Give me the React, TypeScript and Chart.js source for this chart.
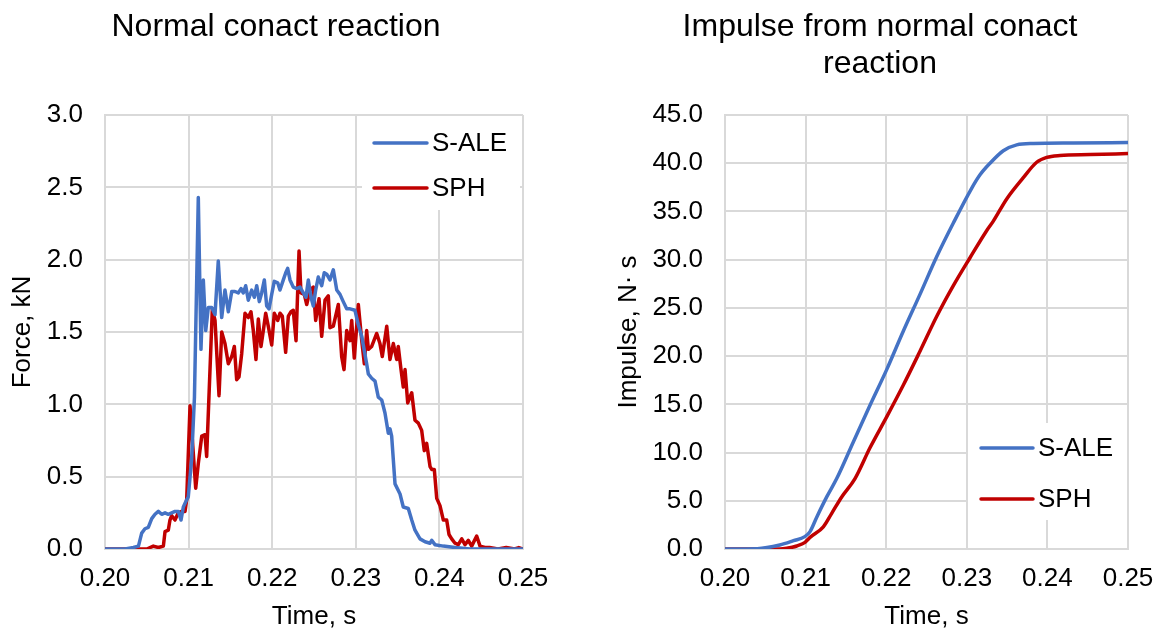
import React, { useEffect, useRef } from 'react';
import { Chart, registerables } from 'chart.js';

Chart.register(...registerables);

const FONT = "'Liberation Sans', Arial, sans-serif";
const GRID = '#d9d9d9';
const BLUE = '#4472C4';
const RED = '#C00000';

const seriesNames = ['S-ALE', 'SPH'];
const timeTicks = [0.2, 0.21, 0.22, 0.23, 0.24, 0.25];

// Normal contact reaction, [time s, force kN]
const forceSALE: [number, number][] = [
  [0.2, 0], [0.2024, 0], [0.2034, 0.01], [0.204, 0.02], [0.20439, 0.11], [0.20478, 0.14],
  [0.20518, 0.15], [0.20559, 0.21], [0.20598, 0.24], [0.20638, 0.26], [0.20678, 0.24],
  [0.20718, 0.25], [0.20757, 0.24], [0.20798, 0.25], [0.20837, 0.26], [0.20877, 0.26],
  [0.20909, 0.2], [0.20937, 0.29], [0.20977, 0.34], [0.20996, 0.36], [0.21036, 0.62],
  [0.2107, 1.05], [0.21116, 2.43], [0.21148, 1.38], [0.21176, 1.86], [0.21205, 1.51],
  [0.21236, 1.67], [0.21276, 1.67], [0.21316, 1.62], [0.21355, 1.99], [0.21396, 1.6],
  [0.21435, 1.79], [0.21475, 1.64], [0.21516, 1.78], [0.21555, 1.78], [0.21595, 1.77],
  [0.21627, 1.8], [0.21654, 1.77], [0.21683, 1.82], [0.21714, 1.72], [0.21755, 1.79],
  [0.21786, 1.74], [0.21815, 1.82], [0.21846, 1.71], [0.21874, 1.77], [0.21906, 1.86],
  [0.21934, 1.68], [0.21962, 1.66], [0.21994, 1.76], [0.22025, 1.85], [0.22066, 1.84],
  [0.22093, 1.79], [0.22133, 1.86], [0.22162, 1.91], [0.22185, 1.94], [0.22213, 1.86],
  [0.22252, 1.81], [0.22293, 1.8], [0.22333, 1.81], [0.22372, 1.77], [0.22404, 1.74],
  [0.22432, 1.86], [0.22464, 1.74], [0.22492, 1.68], [0.2252, 1.79], [0.22551, 1.88],
  [0.22592, 1.82], [0.22623, 1.91], [0.22652, 1.9], [0.22691, 1.86], [0.22731, 1.93],
  [0.22772, 1.79], [0.22811, 1.76], [0.2285, 1.71], [0.22891, 1.66], [0.22931, 1.66],
  [0.2299, 1.65], [0.2303, 1.55], [0.23071, 1.47], [0.2313, 1.28], [0.2315, 1.21],
  [0.2319, 1.18], [0.2323, 1.16], [0.23269, 1.05], [0.2331, 1.03], [0.23349, 0.94],
  [0.23389, 0.8], [0.23409, 0.83], [0.23429, 0.78], [0.23469, 0.45], [0.23529, 0.38],
  [0.23568, 0.29], [0.23628, 0.28], [0.23669, 0.2], [0.23708, 0.13], [0.23768, 0.07],
  [0.23828, 0.05], [0.23888, 0.04], [0.23908, 0.06], [0.23947, 0.03], [0.24047, 0.02],
  [0.24187, 0.01], [0.24366, 0], [0.25, 0],
];

const forceSPH: [number, number][] = [
  [0.2, 0], [0.205, 0], [0.20578, 0.02], [0.20638, 0.01], [0.20698, 0.02], [0.20718, 0.12],
  [0.20757, 0.13], [0.20777, 0.2], [0.20798, 0.23], [0.20837, 0.2], [0.20877, 0.25],
  [0.20917, 0.26], [0.20957, 0.26], [0.20977, 0.34], [0.21017, 0.99], [0.21085, 0.42],
  [0.21116, 0.59], [0.21157, 0.78], [0.21196, 0.79], [0.21216, 0.64], [0.21284, 1.66],
  [0.21316, 1.58], [0.21364, 1.06], [0.21396, 1.5], [0.21435, 1.42], [0.21475, 1.28],
  [0.21516, 1.33], [0.21547, 1.4], [0.21575, 1.17], [0.21603, 1.19], [0.21635, 1.35],
  [0.21675, 1.63], [0.21714, 1.6], [0.21746, 1.64], [0.21774, 1.51], [0.21806, 1.31],
  [0.21834, 1.59], [0.21866, 1.4], [0.21894, 1.51], [0.21922, 1.63], [0.21953, 1.54],
  [0.21994, 1.41], [0.22025, 1.63], [0.22066, 1.58], [0.22093, 1.63], [0.22121, 1.61],
  [0.22161, 1.36], [0.22193, 1.61], [0.22225, 1.64], [0.22252, 1.65], [0.22285, 1.44],
  [0.22321, 2.06], [0.22344, 1.77], [0.22384, 1.76], [0.22413, 1.69], [0.22452, 1.79],
  [0.22492, 1.81], [0.2252, 1.58], [0.2256, 1.73], [0.22592, 1.47], [0.22632, 1.72],
  [0.22671, 1.75], [0.22691, 1.53], [0.22731, 1.54], [0.22791, 1.69], [0.22831, 1.33],
  [0.22859, 1.24], [0.22891, 1.51], [0.22931, 1.44], [0.22951, 1.58], [0.22982, 1.32],
  [0.2303, 1.69], [0.23071, 1.44], [0.23102, 1.28], [0.2313, 1.51], [0.2315, 1.38],
  [0.2319, 1.4], [0.2325, 1.49], [0.23289, 1.42], [0.23317, 1.33], [0.2337, 1.54],
  [0.23409, 1.31], [0.23449, 1.42], [0.23489, 1.31], [0.23508, 1.4], [0.23541, 1.24],
  [0.23568, 1.12], [0.23589, 1.24], [0.23621, 1.01], [0.23669, 1.08], [0.23708, 0.89],
  [0.23748, 0.87], [0.23788, 0.82], [0.23819, 0.68], [0.23848, 0.73], [0.23888, 0.57],
  [0.23908, 0.55], [0.23939, 0.55], [0.23968, 0.35], [0.24007, 0.3], [0.24047, 0.2],
  [0.24087, 0.2], [0.24115, 0.1], [0.24147, 0.07], [0.24187, 0.04], [0.24226, 0.03],
  [0.24267, 0.07], [0.24306, 0.03], [0.24346, 0.06], [0.24386, 0.02], [0.24446, 0.09],
  [0.24486, 0.02], [0.24545, 0.01], [0.246, 0.01], [0.247, 0], [0.248, 0.01], [0.249, 0],
  [0.2495, 0.01], [0.25, 0],
];

// Impulse from normal contact reaction, [time s, impulse N·s]
const impulseSALE: [number, number][] = [
  [0.2, 0], [0.204, 0.03], [0.2068, 0.41], [0.2085, 0.86], [0.2099, 1.28], [0.21055, 1.8],
  [0.21138, 3.3], [0.21262, 5.4], [0.21386, 7.3], [0.21592, 11.1], [0.21799, 14.9],
  [0.22006, 18.6], [0.22213, 22.6], [0.22419, 26.4], [0.22626, 30.3], [0.22833, 33.8],
  [0.2306, 37.4], [0.23164, 38.8], [0.23288, 40.0], [0.23453, 41.3], [0.23619, 41.9],
  [0.23825, 42.05], [0.2432, 42.1], [0.25, 42.15],
];

const impulseSPH: [number, number][] = [
  [0.2, 0], [0.2068, 0], [0.20765, 0.07], [0.2089, 0.31], [0.20993, 0.69], [0.21055, 1.2],
  [0.2122, 2.3], [0.21324, 3.7], [0.21448, 5.4], [0.21613, 7.3], [0.21799, 10.5],
  [0.22006, 13.7], [0.22213, 17.0], [0.22419, 20.5], [0.22626, 24.1], [0.22833, 27.3],
  [0.2304, 30.2], [0.23246, 33.0], [0.23329, 34.0], [0.23495, 36.3], [0.23701, 38.5],
  [0.23867, 40.1], [0.23991, 40.6], [0.24156, 40.8], [0.2453, 40.9], [0.25, 41.0],
];

type PanelCfg = {
  title: string | string[];
  titleCenter: number;
  yTitle: string;
  yMax: number;
  yStep: number;
  yTitleOffset: number;
  padRight: number;
  yWidth: number;
  titlePadBottom: number;
  series: [number, number][][];
  smooth: boolean;
  legend: { bx: number; by: number; bw: number; bh: number; x: number; y: number; gap: number; len: number };
};

function overlayPlugin(cfg: PanelCfg) {
  return {
    id: 'overlay',
    afterLayout(chart: any) {
      const tb = chart.titleBlock;
      if (tb) {
        tb.left = cfg.titleCenter - 280;
        tb.right = cfg.titleCenter + 280;
      }
    },
    afterDatasetsDraw(chart: any) {
      const lg = cfg.legend;
      const ctx = chart.ctx as CanvasRenderingContext2D;
      ctx.save();
      ctx.fillStyle = '#ffffff';
      ctx.fillRect(lg.bx, lg.by, lg.bw, lg.bh);
      chart.data.datasets.forEach((ds: any, i: number) => {
        const y = lg.y + i * lg.gap;
        ctx.strokeStyle = ds.borderColor;
        ctx.lineWidth = 3.5;
        ctx.lineCap = 'round';
        ctx.beginPath();
        ctx.moveTo(lg.x, y);
        ctx.lineTo(lg.x + lg.len, y);
        ctx.stroke();
        ctx.fillStyle = '#000000';
        ctx.font = `26px ${FONT}`;
        ctx.textBaseline = 'middle';
        ctx.textAlign = 'left';
        ctx.fillText(ds.label, lg.x + lg.len + 5, y + 1);
      });
      ctx.restore();
    },
  };
}

function buildConfig(cfg: PanelCfg): any {
  const colors = [BLUE, RED];
  return {
    type: 'line',
    data: {
      datasets: cfg.series.map((s, i) => ({
        label: seriesNames[i],
        data: s.map(([x, y]) => ({ x, y })),
        borderColor: colors[i],
        backgroundColor: colors[i],
        borderWidth: 3.5,
        pointRadius: 0,
        fill: false,
        tension: 0,
        cubicInterpolationMode: cfg.smooth ? 'monotone' : 'default',
        borderJoinStyle: 'round',
      })),
    },
    options: {
      responsive: false,
      animation: false,
      devicePixelRatio: 1,
      events: [],
      layout: { padding: { left: 0, right: cfg.padRight, top: 0, bottom: 0 } },
      plugins: {
        legend: { display: false },
        tooltip: { enabled: false },
        title: {
          display: true,
          text: cfg.title,
          color: '#000000',
          font: { family: FONT, size: 32, weight: 'normal', lineHeight: '37px' },
          padding: { top: 8.5, bottom: cfg.titlePadBottom },
        },
      },
      scales: {
        x: {
          type: 'linear',
          min: timeTicks[0],
          max: timeTicks[timeTicks.length - 1],
          afterBuildTicks: (s: any) => {
            s.ticks = timeTicks.map((v) => ({ value: v }));
          },
          ticks: {
            callback: (v: any) => Number(v).toFixed(2),
            color: '#000000',
            font: { family: FONT, size: 26 },
            padding: 14,
            maxRotation: 0,
            autoSkip: false,
          },
          grid: { color: GRID, lineWidth: 2, drawTicks: false },
          border: { color: GRID, width: 2 },
          title: {
            display: true,
            text: 'Time, s',
            color: '#000000',
            font: { family: FONT, size: 26 },
            padding: { top: 0, bottom: 0 },
          },
          afterFit: (s: any) => {
            s.height = 83;
          },
        },
        y: {
          type: 'linear',
          min: 0,
          max: cfg.yMax,
          ticks: {
            stepSize: cfg.yStep,
            callback: (v: any) => Number(v).toFixed(1),
            color: '#000000',
            font: { family: FONT, size: 26 },
            padding: 22,
          },
          grid: { color: GRID, lineWidth: 2, drawTicks: false },
          border: { color: GRID, width: 2 },
          title: {
            display: true,
            text: cfg.yTitle,
            color: '#000000',
            font: { family: FONT, size: 26 },
            padding: { top: cfg.yTitleOffset - 15.6, bottom: 0 },
          },
          afterFit: (s: any) => {
            s.width = cfg.yWidth;
          },
        },
      },
    },
    plugins: [overlayPlugin(cfg)],
  };
}

const leftPanel: PanelCfg = {
  title: 'Normal conact reaction',
  titleCenter: 276,
  yTitle: 'Force, kN',
  yMax: 3,
  yStep: 0.5,
  yTitleOffset: 23,
  padRight: 57,
  yWidth: 105,
  titlePadBottom: 69.5,
  series: [forceSALE, forceSPH],
  smooth: false,
  legend: { bx: 362, by: 116, bw: 158, bh: 94, x: 374, y: 143, gap: 45, len: 53 },
};

const rightPanel: PanelCfg = {
  title: ['Impulse from normal conact', 'reaction'],
  titleCenter: 300,
  yTitle: 'Impulse, N· s',
  yMax: 45,
  yStep: 5,
  yTitleOffset: 49,
  padRight: 42,
  yWidth: 145,
  titlePadBottom: 32.5,
  series: [impulseSALE, impulseSPH],
  smooth: true,
  legend: { bx: 388, by: 423, bw: 159, bh: 97, x: 401, y: 448, gap: 51, len: 52 },
};

function Panel({ cfg, left, width }: { cfg: PanelCfg; left: number; width: number }) {
  const ref = useRef<HTMLCanvasElement>(null);
  useEffect(() => {
    const chart = new Chart(ref.current as HTMLCanvasElement, buildConfig(cfg));
    return () => chart.destroy();
  }, [cfg]);
  return (
    <div style={{ position: 'absolute', left, top: 0, width, height: 632 }}>
      <canvas ref={ref} width={width} height={632} style={{ display: 'block' }} />
    </div>
  );
}

export default function App() {
  return (
    <div style={{ position: 'absolute', left: 0, top: 0, width: 1161, height: 632, background: '#ffffff', overflow: 'hidden' }}>
      <Panel cfg={leftPanel} left={0} width={580} />
      <Panel cfg={rightPanel} left={580} width={590} />
    </div>
  );
}
